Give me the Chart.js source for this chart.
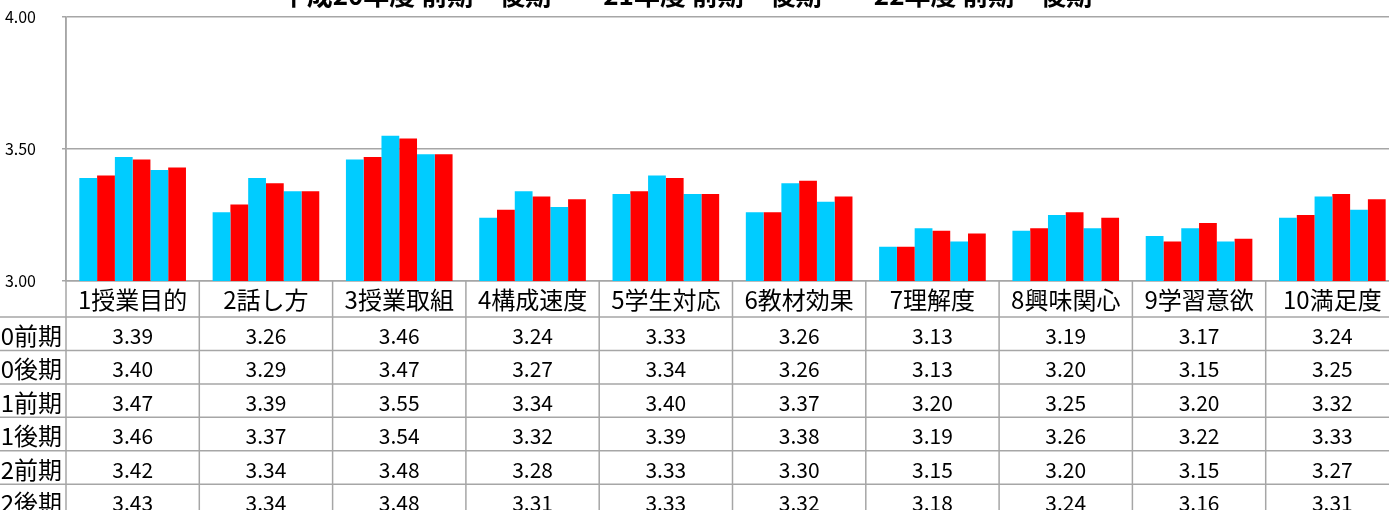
<!DOCTYPE html>
<html>
<head>
<meta charset="utf-8">
<script src="https://cdn.jsdelivr.net/npm/chart.js@4.4.1/dist/chart.umd.min.js"></script>
<style>
html, body { margin: 0; padding: 0; background: #fff; overflow: hidden; width: 1389px; height: 510px; }
#wrap { position: absolute; left: -60px; top: -30px; }
</style>
</head>
<body>
<div id="wrap"><canvas id="myChart" width="1460" height="545"></canvas></div>
<script>
// data
var titleText = "平成20年度 前期・後期　　21年度 前期・後期　　22年度 前期・後期";
var categories = ["1授業目的", "2話し方", "3授業取組", "4構成速度", "5学生対応", "6教材効果", "7理解度", "8興味関心", "9学習意欲", "10満足度"];
var seriesNames = ["H20前期", "H20後期", "H21前期", "H21後期", "H22前期", "H22後期"];
var h20First  = [3.39, 3.26, 3.46, 3.24, 3.33, 3.26, 3.13, 3.19, 3.17, 3.24];
var h20Second = [3.40, 3.29, 3.47, 3.27, 3.34, 3.26, 3.13, 3.20, 3.15, 3.25];
var h21First  = [3.47, 3.39, 3.55, 3.34, 3.40, 3.37, 3.20, 3.25, 3.20, 3.32];
var h21Second = [3.46, 3.37, 3.54, 3.32, 3.39, 3.38, 3.19, 3.26, 3.22, 3.33];
var h22First  = [3.42, 3.34, 3.48, 3.28, 3.33, 3.30, 3.15, 3.20, 3.15, 3.27];
var h22Second = [3.43, 3.34, 3.48, 3.31, 3.33, 3.32, 3.18, 3.24, 3.16, 3.31];
var yMin = 3.0, yMax = 4.0, yStep = 0.5;

var seriesValues = [h20First, h20Second, h21First, h21Second, h22First, h22Second];
var colors = ["#00CCFF", "#FF0000", "#00CCFF", "#FF0000", "#00CCFF", "#FF0000"];
var lineGray = "#a6a6a6";
var fontFamily = '"Noto Sans CJK JP", "Liberation Sans", sans-serif';

Chart.defaults.font.family = fontFamily;
Chart.defaults.color = "#000";

// data table drawn under the plot, columns taken from the x scale
var dataTable = {
  id: "dataTable",
  afterDraw: function(chart) {
    var ctx = chart.ctx;
    var area = chart.chartArea;
    var n = categories.length;
    var colW = (area.right - area.left) / n;
    var headTop = area.bottom;
    var headH = 36;
    var rowH = 33.45;
    var bottom = chart.height;

    ctx.save();
    ctx.strokeStyle = lineGray;
    ctx.lineWidth = 1.5;

    // row separators
    for (var r = 0; r < seriesNames.length; r++) {
      var y = headTop + headH + r * rowH;
      ctx.beginPath();
      ctx.moveTo(0, y);
      ctx.lineTo(chart.width, y);
      ctx.stroke();
    }
    // column separators
    for (var c = 0; c <= n; c++) {
      var x = area.left + c * colW;
      ctx.beginPath();
      ctx.moveTo(x, c === 0 ? area.top : headTop);
      ctx.lineTo(x, bottom);
      ctx.stroke();
    }

    // category header
    ctx.fillStyle = "#000";
    ctx.textAlign = "center";
    ctx.textBaseline = "middle";
    ctx.font = "24px " + fontFamily;
    for (var i = 0; i < n; i++) {
      var cx = chart.scales.x.getPixelForValue(i);
      ctx.fillText(categories[i], cx, headTop + headH / 2 + 1);
    }

    // rows
    for (var s = 0; s < seriesNames.length; s++) {
      var cy = headTop + headH + s * rowH + rowH / 2 + 2;
      ctx.textAlign = "right";
      ctx.font = "24px " + fontFamily;
      ctx.fillText(seriesNames[s], area.left - 4, cy);
      ctx.textAlign = "center";
      ctx.font = "21px " + fontFamily;
      for (var k = 0; k < n; k++) {
        ctx.fillText(seriesValues[s][k].toFixed(2), chart.scales.x.getPixelForValue(k), cy);
      }
    }
    ctx.restore();
  }
};

var datasets = seriesNames.map(function(name, i) {
  return {
    label: name,
    data: seriesValues[i],
    backgroundColor: colors[i],
    borderWidth: 0,
    categoryPercentage: 0.8,
    barPercentage: 1.0
  };
});

new Chart(document.getElementById("myChart"), {
  type: "bar",
  data: { labels: categories, datasets: datasets },
  options: {
    responsive: false,
    animation: false,
    layout: { padding: { left: 34, right: 1, top: 0, bottom: 0 } },
    plugins: {
      legend: { display: false },
      tooltip: { enabled: false },
      title: {
        display: true,
        text: titleText,
        color: "#000",
        font: { size: 26, weight: "bold", lineHeight: 1.2 },
        padding: { top: 10, bottom: 5.8 }
      }
    },
    scales: {
      x: {
        ticks: { display: false },
        grid: { display: false },
        border: { display: true, color: lineGray, width: 1.5 },
        afterFit: function(scale) { scale.height = 234; }
      },
      y: {
        min: yMin,
        max: yMax,
        ticks: {
          stepSize: yStep,
          padding: 26,
          font: { size: 16 },
          color: "#000",
          callback: function(v) { return Number(v).toFixed(2); }
        },
        grid: { color: lineGray, lineWidth: 1.5, tickLength: 4 },
        border: { display: true, color: lineGray, width: 1.5 },
        afterFit: function(scale) { scale.width = 92; }
      }
    }
  },
  plugins: [dataTable]
});
</script>
</body>
</html>
